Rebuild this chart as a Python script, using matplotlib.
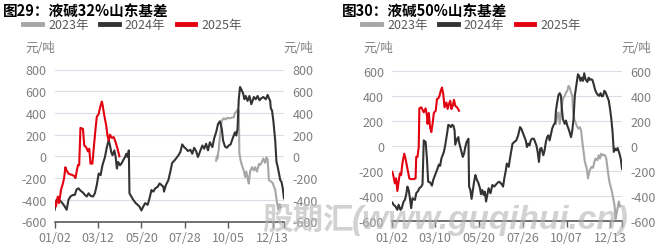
import matplotlib
matplotlib.use("Agg")
from matplotlib import pyplot as plt

plt.rcParams['font.family'] = ['Noto Sans CJK SC', 'DejaVu Sans']

# ---- 图29: 液碱32% 山东基差 (x = day index from 01/02) ----
l23_x = [257, 258, 259, 261, 263, 266, 269, 272, 275, 278, 281, 285, 287, 289, 291,
         293, 294, 296, 299, 301, 303, 305, 307, 309, 311, 314, 317, 319, 322, 325,
         327, 330, 332, 335, 337, 339, 341, 344, 347, 351, 354, 356, 358, 360]
l23_y = [-40, 0, -20, 60, 180, 330, 350, 340, 355, 350, 355, 360, 400, 410, 430,
         420, 30, -40, -100, -130, -190, -140, -200, -250, -140, -100, -130, -100, -140, -70,
         -80, -50, -20, -60, -10, -30, -220, -230, -245, -310, -430, -490, -440, -470]

l24_x = [0, 3, 6, 10, 13, 16, 19, 22, 25, 29, 32, 35, 38, 41, 45, 48, 51, 54, 57, 61,
         64, 67, 70, 73, 76, 80, 83, 86, 88, 90, 92, 95, 97, 99, 101, 104, 107, 109, 112, 114,
         116, 118, 119, 122, 125, 129, 132, 135, 138, 141, 144, 148, 151, 154, 157, 160, 164, 167, 170, 173,
         174, 177, 181, 184, 187, 190, 193, 197, 200, 203, 206, 209, 212, 216, 219,
         222, 225, 228, 232, 235, 238, 241, 244, 247, 251, 254, 257, 260, 263, 266,
         268, 271, 274, 277, 280, 284, 287, 289, 291, 293, 295, 297, 300, 302, 304,
         307, 310, 313, 317, 320, 323, 326, 329, 332, 336, 339, 341, 343, 344, 346,
         348, 351, 353, 355, 357, 359, 361, 363, 365]
l24_y = [-492, -400, -395, -416, -437, -462, -492, -400, -370, -355, -355, -303, -295, -316, -334,
         -355, -370, -340, -364, -370, -340, -264, -158, -173, -82, -6, 85, 152, 100, 40,
         10, 55, -6, -112, -51, -82, -60, -36, -6, 24, -6, 55, -340, -370, -400,
         -431, -446, -462, -498, -462, -431, -446, -385, -310, -325, -295, -280, -249, -264, -280,
         -325, -264, -218, -142, -60, -42, -21, 10, 40, 110, 85, 70, 49, 61, 24,
         79, 49, -6, 55, 100, 70, 116, 55, 130, 85, 170, 222, 298, 323, 253,
         146, 91, 79, 100, 110, 177, 222, 192, 253, 526, 639, 617, 578, 526, 556,
         511, 556, 480, 547, 526, 556, 517, 535, 547, 526, 566, 535, 511, 444, 420,
         329, 146, -51, -97, -158, -218, -234, -295, -386]

l25_x = [0, 2, 5, 7, 10, 13, 15, 17, 19, 22, 27, 31, 33, 35, 37, 39, 41, 45, 47, 50,
         53, 55, 57, 60, 63, 65, 67, 70, 72, 75, 76, 79, 82, 84, 86, 88, 91, 94, 97, 100, 103]
l25_y = [-416, -460, -370, -430, -310, -250, -200, -100, -130, -160, -170, -180, -200, -140, -80,
         -80, 262, 253, 100, 85, 46, 70, -67, -67, 130, 253, 365, 390, 445, 505,
         480, 375, 283, 192, 146, 200, 170, 177, 130, 70, 0]

l_ticks = [0, 69, 138, 207, 276, 347, 365]
l_labels = ['01/02', '03/12', '05/20', '07/28', '10/05', '12/13', '']

# ---- 图30: 液碱50% 山东基差 ----
r23_x = [260, 262, 264, 266, 269, 271, 274, 276, 278, 280, 282, 284, 286, 287, 289,
         292, 294, 296, 298, 300, 302, 304, 306, 309, 311, 313, 315, 317, 319, 321,
         323, 326, 328, 330, 332, 334, 336, 338, 340, 343, 345, 347, 349, 351, 353,
         355, 357, 360, 362]
r23_y = [178, 244, 270, 178, 297, 376, 402, 428, 442, 481, 468, 428, 402, 297, 218,
         178, 152, 139, 152, 125, 33, -46, -126, -178, -257, -205, -178, -165, -173, -126,
         -99, -112, -73, -99, -60, -73, -68, -73, -99, -218, -284, -323, -363, -416, -468,
         -580, -521, -442, -481]

r24_x = [0, 2, 5, 8, 10, 13, 15, 18, 20, 22, 24, 26, 28, 30, 32, 36, 38, 41, 43, 46,
         48, 50, 53, 55, 57, 60, 63, 65, 67, 70, 72, 74, 76, 78, 80, 82, 84, 87, 89, 91,
         93, 95, 97, 99, 100, 103, 105, 106, 108, 110, 112, 114, 116, 118, 121, 122, 124, 126, 128, 130,
         132, 134, 137, 139, 141, 143, 145, 147, 149, 151, 153,
         156, 159, 162, 165, 168, 170, 174, 176, 178, 180, 182, 185, 187, 191, 194,
         197, 200, 203, 205, 208, 210, 212, 214, 216, 218, 220, 222, 225, 227, 229,
         231, 233, 235, 237, 240, 242, 244, 246, 248, 250, 252, 254, 256, 259, 260,
         262, 264, 266, 268, 269, 271, 274, 276, 278, 280, 282, 284, 286, 288, 290,
         293, 295, 297, 299, 301, 303, 305, 307, 310, 312, 314, 316, 318, 320, 322,
         324, 327, 329, 331, 333, 335, 337, 339, 341, 344, 346, 348, 350, 352, 354,
         356, 358, 361, 363, 365]
r24_y = [-450, -468, -481, -508, -468, -508, -495, -442, -429, -389, -323, -350, -416, -495, -416,
         -429, -376, -358, -336, -323, -305, 46, 33, -99, -284, -289, -315, -270, -244, -205,
         -178, -147, -157, -99, -73, -46, 6, 99, 170, 165, 152, 170, 165, 125, 12,
         59, 72, 33, -7, -46, -86, -60, -7, 33, 59, -323, -350, -421, -350, -284,
         -231, -263, -297, -331, -384, -350, -389, -363, -442, -389, -336,
         -376, -310, -323, -305, -289, -284, -305, -323, -257, -205, -139, -165, -99, 20, 33,
         46, 86, 152, 139, 99, 72, 46, -7, 20, 6, 46, 59, 59, 33, 6,
         -46, -126, -20, -15, -73, -33, 33, 72, 86, 46, 91, 139, 165, 191, 283,
         349, 407, 423, 402, 323, 218, 178, 204, 165, 139, 107, 72, 125, 218, 402,
         508, 574, 560, 521, 547, 521, 582, 534, 513, 547, 529, 534, 529, 495, 455,
         428, 407, 402, 423, 397, 402, 442, 428, 402, 363, 297, 218, 112, -46, -20,
         -33, -15, -60, -100, -180]

r25_x = [0, 2, 4, 6, 8, 10, 12, 14, 16, 19, 21, 23, 25, 27, 29, 34, 37, 38, 40, 42,
         43, 46, 48, 50, 53, 55, 56, 58, 60, 62, 64, 66, 69, 71, 73, 75, 77, 79, 81, 83,
         86, 88, 90, 92, 94, 96, 98, 100, 103, 106]
r25_y = [-205, -244, -297, -257, -358, -284, -218, -231, -139, -60, -99, -152, -205, -257, -263,
         -263, -257, -86, -86, -7, 302, 310, 291, 270, 302, 244, 178, 265, 152, 112,
         178, 265, 283, 376, 381, 402, 442, 468, 415, 310, 349, 297, 336, 362, 297,
         323, 370, 323, 310, 283]

r_ticks = [0, 68, 138, 207, 277, 346, 365]
r_labels = ['01/02', '03/10', '05/20', '07/26', '10/07', '12/13', '']

C23 = '#a6a6a6'
C24 = '#333333'
C25 = '#e3000f'
W, H = 664.0, 251.0


def draw_panel(rect, title, tx, data, ylim, ystep, ticks, labels):
    ax = fig.add_axes(rect)
    lines = []
    for x, y, c, name in data:
        ln, = ax.plot(x, y, color=c, lw=1.5, label=name, solid_joinstyle='round')
        lines.append(ln)
    ax.set_xlim(0, 365)
    ax.set_ylim(*ylim)
    yt = list(range(ylim[0], ylim[1] + 1, ystep))
    ax.set_yticks(yt)
    ax.set_yticklabels([str(v) for v in yt])
    ax.set_xticks(ticks)
    ax.set_xticklabels(labels)
    for v in yt[1:]:
        ax.axhline(v, color='#dcdce8', lw=0.8, zorder=0)
    for s in ['top', 'left', 'right']:
        ax.spines[s].set_visible(False)
    ax.spines['bottom'].set_color('#595959')
    ax.spines['bottom'].set_linewidth(1.2)
    ax.tick_params(axis='y', length=0, pad=6, labelsize=9, labelcolor='#7f7f7f',
                   labelleft=True, labelright=True)
    ax.tick_params(axis='x', length=4, width=1, color='#595959', pad=3,
                   labelsize=9, labelcolor='#7f7f7f')

    fig.text(tx / W, 1 - 11 / H, title, fontsize=10.5, fontweight='bold',
             va='center', ha='left', color='black')
    fig.legend(lines, [d[3] for d in data], loc='center left',
               bbox_to_anchor=((tx + 20) / W, 1 - 26 / H), ncol=3, frameon=False,
               fontsize=9, labelcolor='#595959', handlelength=1.5, handletextpad=0.5,
               columnspacing=0.9, borderpad=0, borderaxespad=0)
    for lg in fig.legends[-1].get_lines():
        lg.set_linewidth(3.5)
    x0 = rect[0] * W
    x1 = (rect[0] + rect[2]) * W
    fig.text((x0 - 29) / W, 1 - 49 / H, '元/吨', fontsize=9, color='#7f7f7f',
             va='center', ha='left')
    fig.text((x1 - 1) / W, 1 - 49 / H, '元/吨', fontsize=9, color='#7f7f7f',
             va='center', ha='left')
    return ax


fig = plt.figure(figsize=(W / 100, H / 100), dpi=100)

draw_panel([54.7 / W, 1 - 222.5 / H, 229.3 / W, 152 / H], '图29：液碱32%山东基差', 3,
           [(l23_x, l23_y, C23, '2023年'), (l24_x, l24_y, C24, '2024年'),
            (l25_x, l25_y, C25, '2025年')],
           (-600, 800), 200, l_ticks, l_labels)

draw_panel([392.3 / W, 1 - 222.3 / H, 229.7 / W, 150.3 / H], '图30：液碱50%山东基差', 342,
           [(r23_x, r23_y, C23, '2023年'), (r24_x, r24_y, C24, '2024年'),
            (r25_x, r25_y, C25, '2025年')],
           (-600, 600), 200, r_ticks, r_labels)

# watermark
fig.text(262 / W, 1 - 229 / H, '股期汇', fontsize=22, fontweight='bold',
         color='#b4b4b4', alpha=0.6, va='baseline', ha='left', zorder=20)
fig.text(352 / W, 1 - 229 / H, '(www.guqihui.cn)', family='Liberation Sans',
         fontsize=24, fontweight='bold', style='italic',
         color='#b4b4b4', alpha=0.6, va='baseline', ha='left', zorder=20)

fig.savefig('out.png', dpi=100)
